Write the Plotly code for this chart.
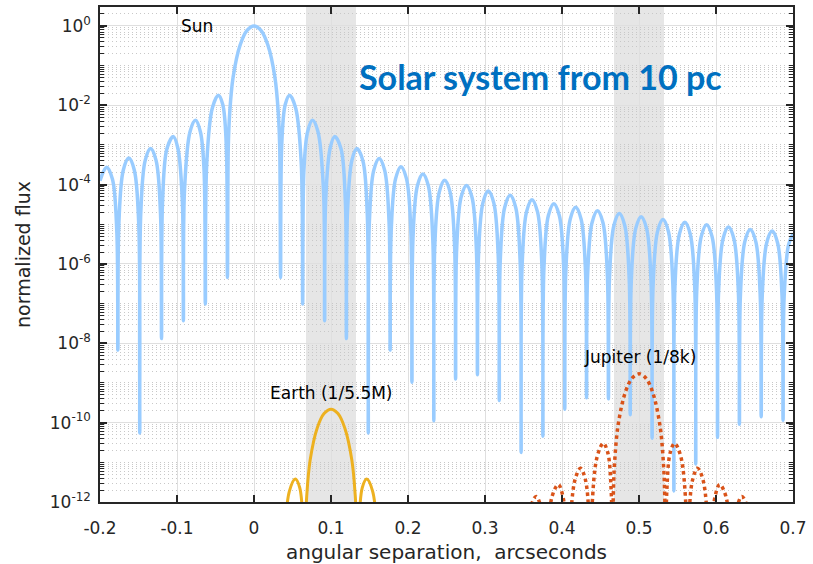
import numpy as np
import plotly.graph_objects as go

# Angular separation (arcsec) and log10(normalized flux) along each diffraction pattern
sun_x = [
    -0.2000, -0.1915, -0.1839, -0.1782, -0.1768,
    -0.1754, -0.1697, -0.1626, -0.1555, -0.1498, -0.1484,
    -0.1470, -0.1413, -0.1343, -0.1272, -0.1215, -0.1201,
    -0.1187, -0.1130, -0.1048, -0.0988, -0.0931, -0.0917,
    -0.0902, -0.0830, -0.0759, -0.0695, -0.0649, -0.0632,
    -0.0613, -0.0541, -0.0463, -0.0406, -0.0361, -0.0345,
    -0.0334, -0.0316, -0.0271, -0.0180, -0.0090, 0.0000,
    0.0090, 0.0180, 0.0271, 0.0316, 0.0334, 0.0345,
    0.0361, 0.0406, 0.0463, 0.0541, 0.0613, 0.0632,
    0.0649, 0.0695, 0.0759, 0.0830, 0.0902, 0.0917,
    0.0931, 0.0988, 0.1048, 0.1129, 0.1186, 0.1200,
    0.1214, 0.1271, 0.1335, 0.1413, 0.1470, 0.1484,
    0.1498, 0.1555, 0.1626, 0.1697, 0.1754, 0.1768,
    0.1782, 0.1839, 0.1909, 0.1980, 0.2037, 0.2051,
    0.2065, 0.2122, 0.2193, 0.2264, 0.2321, 0.2335,
    0.2349, 0.2406, 0.2476, 0.2547, 0.2604, 0.2618,
    0.2632, 0.2689, 0.2760, 0.2831, 0.2888, 0.2902,
    0.2916, 0.2973, 0.3043, 0.3114, 0.3171, 0.3185,
    0.3199, 0.3256, 0.3327, 0.3398, 0.3455, 0.3469,
    0.3483, 0.3540, 0.3610, 0.3681, 0.3738, 0.3752,
    0.3766, 0.3823, 0.3894, 0.3965, 0.4022, 0.4036,
    0.4050, 0.4107, 0.4177, 0.4248, 0.4305, 0.4319,
    0.4333, 0.4390, 0.4461, 0.4532, 0.4589, 0.4603,
    0.4617, 0.4674, 0.4744, 0.4815, 0.4872, 0.4886,
    0.4900, 0.4957, 0.5028, 0.5099, 0.5156, 0.5170,
    0.5184, 0.5241, 0.5311, 0.5382, 0.5439, 0.5453,
    0.5467, 0.5524, 0.5595, 0.5666, 0.5723, 0.5737,
    0.5751, 0.5808, 0.5878, 0.5949, 0.6006, 0.6020,
    0.6034, 0.6091, 0.6162, 0.6233, 0.6290, 0.6304,
    0.6318, 0.6375, 0.6445, 0.6516, 0.6573, 0.6587,
    0.6601, 0.6658, 0.6729, 0.6800, 0.6857, 0.6871,
    0.6885, 0.6942, 0.7000,
]
sun_log10 = [
    -3.90, -3.56, -3.86, -5.17, -8.17,
    -4.94, -3.63, -3.33, -3.63, -4.94, -10.26,
    -4.70, -3.39, -3.09, -3.39, -4.70, -7.88,
    -4.40, -3.09, -2.79, -3.09, -4.40, -7.43,
    -4.12, -2.66, -2.38, -2.68, -3.63, -7.01,
    -3.44, -2.07, -1.75, -1.98, -2.96, -6.34,
    -3.07, -2.21, -1.29, -0.48, -0.11, 0.00,
    -0.11, -0.48, -1.29, -2.21, -3.07, -6.34,
    -2.96, -1.98, -1.75, -2.07, -3.44, -7.01,
    -3.63, -2.68, -2.38, -2.66, -4.12, -7.43,
    -4.40, -3.09, -2.79, -3.09, -4.40, -7.88,
    -4.70, -3.39, -3.09, -3.39, -4.70, -10.26,
    -4.95, -3.64, -3.34, -3.64, -4.95, -8.17,
    -5.16, -3.85, -3.55, -3.85, -5.16, -8.98,
    -5.34, -4.03, -3.73, -4.03, -5.34, -9.95,
    -5.50, -4.19, -3.89, -4.19, -5.50, -8.90,
    -5.63, -4.32, -4.02, -4.32, -5.63, -8.79,
    -5.77, -4.46, -4.16, -4.46, -5.77, -9.44,
    -5.88, -4.57, -4.27, -4.57, -5.88, -10.75,
    -5.99, -4.68, -4.38, -4.68, -5.99, -10.34,
    -6.09, -4.78, -4.48, -4.78, -6.09, -9.66,
    -6.18, -4.87, -4.57, -4.87, -6.18, -9.37,
    -6.27, -4.96, -4.66, -4.96, -6.27, -9.40,
    -6.34, -5.03, -4.73, -5.03, -6.34, -9.80,
    -6.42, -5.11, -4.81, -5.11, -6.42, -10.39,
    -6.49, -5.18, -4.88, -5.18, -6.49, -11.72,
    -6.56, -5.25, -4.95, -5.25, -6.56, -11.04,
    -6.62, -5.31, -5.01, -5.31, -6.62, -10.37,
    -6.68, -5.37, -5.07, -5.37, -6.68, -10.04,
    -6.74, -5.43, -5.13, -5.43, -6.74, -9.85,
    -6.78, -5.47, -5.17, -5.47, -6.78, -9.94,
    -6.83, -5.52, -5.24,
]

earth_x = [
    0.0367, 0.0387, 0.0459, 0.0537, 0.0594, 0.0639, 0.0655,
    0.0666, 0.0684, 0.0729, 0.0820, 0.0910, 0.1000,
    0.1090, 0.1180, 0.1271, 0.1316, 0.1334, 0.1345,
    0.1361, 0.1406, 0.1463, 0.1541, 0.1613, 0.1633,
]
earth_log10 = [
    -14.00, -13.10, -11.73, -11.42, -11.64, -12.62, -14.00,
    -12.73, -11.87, -10.95, -10.14, -9.77, -9.66,
    -9.77, -10.14, -10.95, -11.87, -12.73, -14.00,
    -12.62, -11.64, -11.42, -11.73, -13.10, -14.00,
]

jupiter_x = [
    0.3516, 0.3530, 0.3587, 0.3665, 0.3729, 0.3786, 0.3800,
    0.3814, 0.3871, 0.3952, 0.4012, 0.4069, 0.4083,
    0.4098, 0.4170, 0.4241, 0.4305, 0.4351, 0.4368,
    0.4387, 0.4459, 0.4537, 0.4594, 0.4639, 0.4655,
    0.4666, 0.4684, 0.4729, 0.4820, 0.4910, 0.5000,
    0.5090, 0.5180, 0.5271, 0.5316, 0.5334, 0.5345,
    0.5361, 0.5406, 0.5463, 0.5541, 0.5613, 0.5632,
    0.5649, 0.5695, 0.5759, 0.5830, 0.5902, 0.5917,
    0.5931, 0.5988, 0.6048, 0.6129, 0.6186, 0.6200,
    0.6214, 0.6271, 0.6335, 0.6413, 0.6470, 0.6484,
]
jupiter_log10 = [
    -14.00, -13.47, -12.16, -11.86, -12.16, -13.47, -14.00,
    -13.17, -11.86, -11.56, -11.86, -13.17, -14.00,
    -12.89, -11.43, -11.15, -11.45, -12.40, -14.00,
    -12.21, -10.84, -10.52, -10.75, -11.73, -14.00,
    -11.84, -10.98, -10.06, -9.25, -8.88, -8.77,
    -8.88, -9.25, -10.06, -10.98, -11.84, -14.00,
    -11.73, -10.75, -10.52, -10.84, -12.21, -14.00,
    -12.40, -11.45, -11.15, -11.43, -12.89, -14.00,
    -13.17, -11.86, -11.56, -11.86, -13.17, -14.00,
    -13.47, -12.16, -11.86, -12.16, -13.47, -14.00,
]

# Shaded separation windows around the two planets (arcsec)
band_start = [0.0675, 0.4675]
band_end = [0.1325, 0.5325]

x_tick_vals = [-0.2, -0.1, 0.0, 0.1, 0.2, 0.3, 0.4, 0.5, 0.6, 0.7]
x_tick_text = ["-0.2", "-0.1", "0", "0.1", "0.2", "0.3", "0.4", "0.5", "0.6", "0.7"]
y_tick_vals = [1e-12, 1e-10, 1e-8, 1e-6, 1e-4, 1e-2, 1e0]
y_tick_text = ["10<sup>-12</sup>", "10<sup>-10</sup>", "10<sup>-8</sup>", "10<sup>-6</sup>",
               "10<sup>-4</sup>", "10<sup>-2</sup>", "10<sup>0</sup>"]

AXIS_COLOR = "#262626"
FONT = "DejaVu Sans"

fig = go.Figure()

fig.add_trace(go.Scatter(
    x=sun_x, y=np.power(10.0, sun_log10), mode="lines",
    line=dict(color="#99CCFF", width=3.5, shape="spline", smoothing=1.0),
    hoverinfo="skip", showlegend=False,
))
fig.add_trace(go.Scatter(
    x=earth_x, y=np.power(10.0, earth_log10), mode="lines",
    line=dict(color="#EDB120", width=3, shape="spline", smoothing=1.0),
    hoverinfo="skip", showlegend=False,
))
fig.add_trace(go.Scatter(
    x=jupiter_x, y=np.power(10.0, jupiter_log10), mode="lines",
    line=dict(color="#D95319", width=3.5, dash="dot", shape="spline", smoothing=1.0),
    hoverinfo="skip", showlegend=False,
))

for x0, x1 in zip(band_start, band_end):
    fig.add_shape(type="rect", xref="x", yref="paper", x0=x0, x1=x1, y0=0, y1=1,
                  fillcolor="#E6E6E6", line_width=0, layer="below")

label_font = dict(family=FONT, size=17, color="#000000")
fig.add_annotation(x=-0.097, y=0.0, text="Sun", showarrow=False,
                   xanchor="left", yanchor="middle", font=label_font)
fig.add_annotation(x=0.018, y=-9.26, text="Earth (1/5.5M)", showarrow=False,
                   xanchor="left", yanchor="middle", font=label_font)
fig.add_annotation(x=0.426, y=-8.34, text="Jupiter (1/8k)", showarrow=False,
                   xanchor="left", yanchor="middle", font=label_font)
fig.add_annotation(x=0.3726, y=-1.28, text="<b>Solar system from 10 pc</b>", showarrow=False,
                   xanchor="center", yanchor="middle",
                   font=dict(family="Lato", size=34, color="#0070C0"))

fig.update_xaxes(
    range=[-0.2, 0.7], tickmode="array", tickvals=x_tick_vals, ticktext=x_tick_text,
    ticks="inside", ticklen=7, tickwidth=1.5, tickcolor=AXIS_COLOR,
    showline=True, linecolor=AXIS_COLOR, linewidth=1.5, mirror="ticks",
    showgrid=True, gridcolor="#DFDFDF", gridwidth=1, zeroline=False,
    ticklabelposition="outside", ticklabelstandoff=10, automargin=False,
    tickfont=dict(family=FONT, size=17, color=AXIS_COLOR),
    title=dict(text="angular separation,  arcseconds",
               font=dict(family=FONT, size=20, color=AXIS_COLOR), standoff=12),
)
fig.update_yaxes(
    type="log", range=[-12, 0.477], tickmode="array", tickvals=y_tick_vals, ticktext=y_tick_text,
    ticks="inside", ticklen=7, tickwidth=1.5, tickcolor=AXIS_COLOR,
    showline=True, linecolor=AXIS_COLOR, linewidth=1.5, mirror="ticks",
    showgrid=True, gridcolor="#DFDFDF", gridwidth=1, zeroline=False,
    minor=dict(dtick="D1", ticks="inside", ticklen=4, tickcolor=AXIS_COLOR, tickwidth=1,
               showgrid=True, gridcolor="#C8C8C8", gridwidth=1, griddash="1px,3px"),
    ticklabelposition="outside", ticklabelstandoff=4, automargin=False,
    tickfont=dict(family=FONT, size=17, color=AXIS_COLOR),
    title=dict(text="normalized flux", font=dict(family=FONT, size=19, color=AXIS_COLOR),
               standoff=14),
)

fig.update_layout(
    width=813, height=564,
    margin=dict(l=100, r=20, t=7, b=62, autoexpand=False),
    paper_bgcolor="white", plot_bgcolor="white",
    font=dict(family=FONT, color=AXIS_COLOR),
)

fig.write_html("out.html")
